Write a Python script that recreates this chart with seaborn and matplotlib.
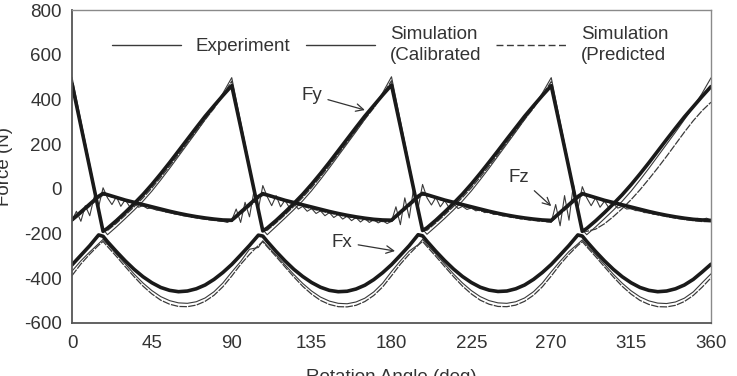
import matplotlib
matplotlib.use("Agg")
import matplotlib.pyplot as plt
import seaborn as sns
from matplotlib.lines import Line2D

# ---------------- data ----------------
angle = [0, 5, 10, 15, 17.5, 20, 25, 30, 35, 40, 45, 50, 55, 60, 65, 70, 75, 80, 85,
         90, 95, 100, 105, 107.5, 110, 115, 120, 125, 130, 135, 140, 145, 150, 155, 160, 165, 170, 175,
         180, 185, 190, 195, 197.5, 200, 205, 210, 215, 220, 225, 230, 235, 240, 245, 250, 255, 260, 265,
         270, 275, 280, 285, 287.5, 290, 295, 300, 305, 310, 315, 320, 325, 330, 335, 340, 345, 350, 355,
         360]

fy_cal = [470, 282, 94, -95, -190, -176, -142, -105, -66, -25, 20, 68, 118, 170, 222, 274, 325, 372, 418,
          462, 278, 92, -95, -188, -175, -141, -104, -65, -24, 21, 69, 119, 171, 223, 275, 326, 373, 420,
          465, 280, 93, -94, -186, -174, -140, -103, -64, -23, 22, 70, 120, 171, 223, 274, 325, 372, 418,
          462, 278, 92, -96, -190, -177, -143, -106, -67, -26, 19, 67, 117, 169, 221, 272, 322, 368, 414,
          458]
fy_exp = [500, 305, 110, -85, -180, -205, -170, -133, -95, -55, -10, 40, 92, 146, 200, 254, 310, 366, 428,
          498, 300, 105, -90, -182, -205, -168, -131, -93, -53, -8, 42, 94, 148, 202, 256, 312, 368, 430,
          502, 305, 108, -88, -180, -203, -168, -132, -94, -54, -9, 41, 93, 147, 201, 255, 311, 367, 429,
          498, 300, 105, -90, -182, -205, -170, -133, -95, -55, -10, 40, 92, 146, 200, 254, 310, 366, 428,
          497]
fy_pred = [485, 292, 98, -92, -186, -186, -154, -118, -80, -40, 4, 52, 102, 154, 206, 258, 310, 360, 420,
           482, 288, 95, -93, -186, -185, -152, -116, -78, -38, 6, 54, 104, 156, 208, 260, 312, 362, 422,
           484, 290, 96, -92, -185, -185, -152, -116, -78, -38, 5, 53, 103, 155, 207, 259, 311, 361, 421,
           480, 288, 95, -93, -186, -190, -180, -156, -124, -88, -48, -4, 44, 94, 146, 200, 254, 305, 350,
           388]

fx_cal = [-340, -297, -254, -206, -212, -236, -280, -322, -360, -393, -420, -441, -454, -460, -457, -447, -430, -405, -374,
          -338, -296, -253, -207, -211, -235, -280, -322, -360, -392, -419, -440, -454, -460, -458, -448, -431, -406, -375,
          -339, -297, -254, -205, -210, -234, -279, -321, -359, -392, -419, -440, -453, -459, -457, -447, -430, -405, -374,
          -338, -296, -253, -206, -211, -235, -280, -322, -360, -393, -420, -441, -454, -460, -457, -447, -430, -405, -372,
          -337]
fx_exp = [-368, -322, -282, -245, -226, -248, -292, -336, -381, -421, -455, -482, -500, -510, -512, -505, -488, -460, -421,
          -372, -325, -270, -262, -232, -255, -296, -340, -383, -423, -457, -484, -502, -512, -514, -506, -489, -461, -422,
          -370, -322, -278, -250, -226, -250, -292, -337, -381, -421, -455, -482, -500, -510, -512, -505, -488, -460, -421,
          -371, -324, -280, -246, -228, -252, -294, -338, -382, -422, -456, -483, -501, -511, -513, -506, -489, -461, -420,
          -380]
fx_pred = [-388, -336, -292, -252, -235, -258, -302, -348, -393, -435, -470, -498, -516, -526, -527, -520, -503, -476, -438,
           -390, -338, -293, -253, -236, -259, -303, -349, -394, -436, -471, -499, -517, -527, -528, -521, -504, -477, -439,
           -389, -337, -292, -252, -235, -258, -302, -348, -393, -435, -470, -498, -516, -526, -527, -520, -503, -476, -438,
           -390, -338, -293, -253, -236, -259, -303, -349, -394, -436, -471, -499, -517, -527, -528, -521, -504, -477, -440,
           -398]

fz_cal = [-138, -103, -68, -33, -20, -26, -38, -50, -60, -70, -80, -90, -100, -109, -117, -124, -130, -135, -139,
          -140, -104, -69, -34, -21, -27, -39, -51, -61, -71, -81, -91, -101, -110, -118, -125, -131, -136, -139,
          -140, -104, -69, -33, -20, -26, -38, -50, -60, -70, -80, -90, -100, -109, -117, -124, -130, -135, -139,
          -141, -105, -70, -34, -21, -27, -39, -51, -61, -71, -81, -91, -101, -110, -118, -125, -131, -136, -139,
          -141]
fz_pred = [-145, -112, -78, -42, -28, -30, -42, -55, -66, -77, -88, -98, -107, -115, -123, -130, -136, -141, -145,
           -146, -113, -79, -43, -29, -31, -43, -56, -67, -78, -89, -99, -108, -116, -124, -131, -137, -142, -146,
           -146, -112, -78, -42, -28, -30, -42, -55, -66, -77, -88, -98, -107, -115, -123, -130, -136, -141, -145,
           -147, -113, -79, -43, -29, -31, -43, -56, -67, -78, -89, -99, -108, -116, -124, -131, -137, -142, -146,
           -147]

angle_fine = [0, 2.5, 5, 7.5, 10, 12.5, 15, 17.5, 20, 22.5, 25, 27.5, 30, 32.5, 35, 37.5, 40, 42.5,
              45, 47.5, 50, 52.5, 55, 57.5, 60, 62.5, 65, 67.5, 70, 72.5, 75, 77.5, 80, 82.5, 85, 87.5,
              90, 92.5, 95, 97.5, 100, 102.5, 105, 107.5, 110, 112.5, 115, 117.5, 120, 122.5, 125, 127.5, 130, 132.5,
              135, 137.5, 140, 142.5, 145, 147.5, 150, 152.5, 155, 157.5, 160, 162.5, 165, 167.5, 170, 172.5, 175, 177.5,
              180, 182.5, 185, 187.5, 190, 192.5, 195, 197.5, 200, 202.5, 205, 207.5, 210, 212.5, 215, 217.5, 220, 222.5,
              225, 227.5, 230, 232.5, 235, 237.5, 240, 242.5, 245, 247.5, 250, 252.5, 255, 257.5, 260, 262.5, 265, 267.5,
              270, 272.5, 275, 277.5, 280, 282.5, 285, 287.5, 290, 292.5, 295, 297.5, 300, 302.5, 305, 307.5, 310, 312.5,
              315, 317.5, 320, 322.5, 325, 327.5, 330, 332.5, 335, 337.5, 340, 342.5, 345, 347.5, 350, 352.5, 355, 357.5,
              360]
fz_exp = [-140, -100, -145, -75, -120, -35, -80, 5, -40, -70, -35, -78, -48, -80, -62, -82, -75, -88,
          -84, -95, -93, -103, -103, -112, -112, -120, -120, -127, -127, -132, -133, -137, -138, -142, -145, -150,
          -140, -90, -150, -60, -125, -10, -90, 15, -35, -75, -30, -80, -50, -85, -65, -90, -78, -100,
          -88, -110, -98, -120, -106, -128, -114, -135, -122, -142, -128, -148, -133, -150, -138, -152, -142, -155,
          -145, -80, -160, -40, -130, 5, -85, 20, -40, -72, -38, -80, -52, -85, -65, -88, -78, -92,
          -85, -98, -94, -106, -103, -114, -111, -121, -119, -128, -126, -134, -131, -138, -135, -143, -139, -148,
          -150, -70, -165, -30, -140, 20, -90, 10, -40, -75, -40, -82, -55, -85, -66, -86, -78, -90,
          -88, -97, -97, -106, -106, -113, -113, -118, -120, -124, -125, -127, -130, -131, -134, -132, -137, -131,
          -140]

x_ticks = [0, 45, 90, 135, 180, 225, 270, 315, 360]
y_ticks = [-600, -400, -200, 0, 200, 400, 600, 800]
legend_labels = ["Experiment", "Simulation\n(Calibrated", "Simulation\n(Predicted"]

# ---------------- figure ----------------
sns.set_theme(style="white")
plt.rcParams["font.family"] = ["Liberation Sans", "DejaVu Sans"]

FS = 13.5
fig = plt.figure(figsize=(7.37, 3.76), dpi=100)
ax = fig.add_axes([0.0977, 0.141, 0.867, 0.832])

dark = "#1a1a1a"
thin = "#3a3a3a"

cal_kw = dict(color=dark, lw=2.6, estimator=None, sort=False, ax=ax)
exp_kw = dict(color=thin, lw=0.8, estimator=None, sort=False, ax=ax)
pred_kw = dict(color=thin, lw=0.9, estimator=None, sort=False, ax=ax, linestyle=(0, (6, 1)))

for series in (fy_exp, fx_exp):
    sns.lineplot(x=angle, y=series, **exp_kw)
sns.lineplot(x=angle_fine, y=fz_exp, **exp_kw)
for series in (fy_pred, fx_pred, fz_pred):
    sns.lineplot(x=angle, y=series, **pred_kw)
for series in (fy_cal, fx_cal, fz_cal):
    sns.lineplot(x=angle, y=series, **cal_kw)

ax.set_xlim(0, 360)
ax.set_ylim(-600, 800)
ax.set_xticks(x_ticks)
ax.set_yticks(y_ticks)
ax.set_xticklabels([str(t) for t in x_ticks])
ax.set_yticklabels([str(t) for t in y_ticks])
ax.tick_params(axis="both", direction="inout", length=9, width=1.1, colors="#555555",
               labelcolor="#333333", labelsize=FS)
ax.tick_params(axis="x", pad=4)
ax.tick_params(axis="y", pad=3)

for side in ("left", "bottom"):
    ax.spines[side].set_color("#555555")
    ax.spines[side].set_linewidth(1.3)
for side in ("top", "right"):
    ax.spines[side].set_color("#8a8a8a")
    ax.spines[side].set_linewidth(1.0)

ax.set_xlabel("Rotation Angle (deg)", fontsize=FS, color="#333333")
ax.set_ylabel("Force (N)", fontsize=FS, color="#333333")
ax.xaxis.set_label_coords(0.5, -0.146)
ax.yaxis.set_label_coords(-0.092, 0.5)

# annotations
arrow = dict(arrowstyle="->", color="#333333", lw=0.9, shrinkA=2, shrinkB=0)
ax.annotate("Fy", xy=(165, 353), xytext=(135, 420), fontsize=FS, color="#333333",
            ha="center", va="center", arrowprops=arrow)
ax.annotate("Fz", xy=(270, -77), xytext=(252, 53), fontsize=FS, color="#333333",
            ha="center", va="center", arrowprops=arrow)
ax.annotate("Fx", xy=(182, -278), xytext=(152, -238), fontsize=FS, color="#333333",
            ha="center", va="center", arrowprops=arrow)

handles = [Line2D([], [], color=thin, lw=1.0),
           Line2D([], [], color=thin, lw=1.0),
           Line2D([], [], color=thin, lw=1.0, linestyle=(0, (5, 2.5)))]
leg = ax.legend(handles, legend_labels, ncol=3, frameon=False, fontsize=FS,
                loc="upper left", bbox_to_anchor=(0.062, 0.95), borderpad=0, borderaxespad=0,
                handlelength=3.7, handletextpad=0.8, columnspacing=0.8)
for t in leg.get_texts():
    t.set_color("#333333")
    t.set_linespacing(1.3)

fig.savefig("out.png", dpi=100)
